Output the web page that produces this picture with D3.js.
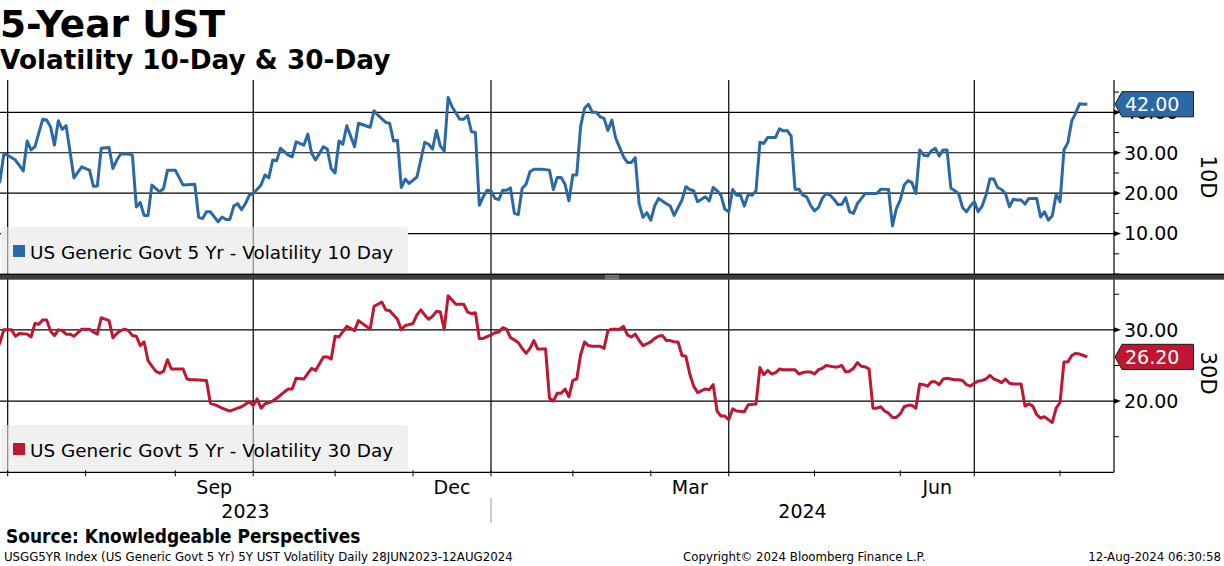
<!doctype html>
<html>
<head>
<meta charset="utf-8">
<title>5-Year UST</title>
<script src="https://d3js.org/d3.v7.min.js"></script>
<style>
body { margin: 0; background: #fff; }
</style>
</head>
<body>
<div id="chart"></div>
<script>

// bond market holidays (x axis runs on trading days, as on the terminal)
var startDate = "2023-06-28", endDate = "2024-08-12";
var holidays = ["2023-07-04","2023-09-04","2023-10-09","2023-11-10","2023-11-23","2023-12-25",
  "2024-01-01","2024-01-15","2024-02-19","2024-03-29","2024-05-27","2024-06-19","2024-07-04"];

var seriesNames = ["US Generic Govt 5 Yr - Volatility 10 Day", "US Generic Govt 5 Yr - Volatility 30 Day"];
var axisTitles = ["10D", "30D"];
var ticks10 = [10, 20, 30, 40];
var ticks30 = [20, 30];
var labelMonths = ["Sep", "Dec", "Mar", "Jun"];
var yearLabels = ["2023", "2024"];

// 10 day volatility
var dates10 = ["2023-06-28","2023-06-29","2023-06-30",
  "2023-07-03","2023-07-06","2023-07-10","2023-07-11","2023-07-12","2023-07-13","2023-07-17","2023-07-18","2023-07-19","2023-07-20","2023-07-21","2023-07-24","2023-07-25","2023-07-27","2023-07-31",
  "2023-08-01","2023-08-02","2023-08-03","2023-08-04","2023-08-07","2023-08-09","2023-08-10","2023-08-11","2023-08-14","2023-08-16","2023-08-17","2023-08-18","2023-08-21","2023-08-22","2023-08-23","2023-08-24","2023-08-28","2023-08-29","2023-08-30",
  "2023-09-01","2023-09-06","2023-09-11","2023-09-12","2023-09-13","2023-09-14","2023-09-15","2023-09-19","2023-09-20","2023-09-21","2023-09-22","2023-09-25","2023-09-26","2023-09-27","2023-09-28","2023-09-29",
  "2023-10-02","2023-10-04","2023-10-05","2023-10-06","2023-10-10","2023-10-11","2023-10-12","2023-10-16","2023-10-17","2023-10-18","2023-10-20","2023-10-23","2023-10-24","2023-10-25","2023-10-27","2023-10-30","2023-10-31",
  "2023-11-01","2023-11-02","2023-11-03","2023-11-06","2023-11-08","2023-11-09","2023-11-15","2023-11-16","2023-11-17","2023-11-21","2023-11-22","2023-11-24","2023-11-27","2023-11-28","2023-11-29","2023-11-30",
  "2023-12-04","2023-12-06","2023-12-07","2023-12-08","2023-12-11","2023-12-12","2023-12-13","2023-12-14","2023-12-15","2023-12-19","2023-12-20","2023-12-21","2023-12-22","2023-12-26","2023-12-27","2023-12-28","2023-12-29",
  "2024-01-02","2024-01-03","2024-01-04","2024-01-05","2024-01-08","2024-01-09","2024-01-10","2024-01-11","2024-01-12","2024-01-16","2024-01-17","2024-01-18","2024-01-22","2024-01-24","2024-01-25","2024-01-26","2024-01-29","2024-01-30","2024-01-31",
  "2024-02-01","2024-02-02","2024-02-05","2024-02-06","2024-02-07","2024-02-08","2024-02-09","2024-02-12","2024-02-13","2024-02-14","2024-02-15","2024-02-16","2024-02-21","2024-02-22","2024-02-23","2024-02-26","2024-02-27","2024-02-28","2024-02-29",
  "2024-03-01","2024-03-04","2024-03-05","2024-03-07","2024-03-08","2024-03-11","2024-03-13","2024-03-14","2024-03-15","2024-03-18","2024-03-19","2024-03-21","2024-03-22","2024-03-25","2024-03-26","2024-03-27","2024-03-28",
  "2024-04-01","2024-04-02","2024-04-03","2024-04-04","2024-04-05","2024-04-08","2024-04-09","2024-04-10","2024-04-11","2024-04-12","2024-04-15","2024-04-17","2024-04-18","2024-04-19","2024-04-22","2024-04-23","2024-04-24","2024-04-25","2024-04-26","2024-04-29","2024-04-30",
  "2024-05-01","2024-05-02","2024-05-03","2024-05-06","2024-05-07","2024-05-08","2024-05-09","2024-05-10","2024-05-13","2024-05-14","2024-05-15","2024-05-16","2024-05-20","2024-05-23","2024-05-24","2024-05-29","2024-05-30","2024-05-31",
  "2024-06-03","2024-06-04","2024-06-05","2024-06-06","2024-06-07","2024-06-10","2024-06-11","2024-06-12","2024-06-13","2024-06-14","2024-06-17","2024-06-18","2024-06-20","2024-06-21","2024-06-24","2024-06-25","2024-06-26","2024-06-27","2024-06-28",
  "2024-07-01","2024-07-02","2024-07-03","2024-07-05","2024-07-08","2024-07-09","2024-07-10","2024-07-11","2024-07-12","2024-07-15","2024-07-16","2024-07-17","2024-07-18","2024-07-19","2024-07-22","2024-07-23","2024-07-24","2024-07-25","2024-07-26","2024-07-29","2024-07-30","2024-07-31",
  "2024-08-01","2024-08-02","2024-08-05","2024-08-06","2024-08-07","2024-08-08","2024-08-09","2024-08-12"];
var vol10 = [22.0,22.8,29.7,
  29.4,28.2,25.5,32.9,30.7,31.5,38.3,38.1,36.4,31.9,37.9,35.8,36.7,23.8,26.5,
  26.1,25.7,21.7,21.8,31.1,31.3,26.1,28.2,29.7,29.7,29.4,16.6,17.7,14.5,14.5,22.0,20.3,21.2,25.7,
  25.7,22.0,22.2,14.0,13.7,15.4,15.4,12.9,14.1,13.5,13.5,16.8,17.4,15.9,17.4,19.5,
  19.9,22.0,24.5,23.8,28.2,28.0,31.1,29.4,29.0,32.7,31.9,34.6,29.8,28.2,31.5,30.9,26.1,
  25.0,32.9,32.1,36.7,31.5,37.3,36.3,40.4,39.3,37.5,37.3,32.9,33.1,21.4,23.5,22.4,
  24.0,32.6,32.1,30.9,35.5,31.7,30.4,43.7,41.4,38.3,38.3,39.2,35.2,35.0,17.0,19.1,20.7,
  20.6,18.7,18.4,20.7,20.7,21.3,15.0,14.7,21.2,22.2,25.3,25.9,25.9,25.7,20.9,23.9,23.9,22.2,18.1,
  24.5,24.5,36.6,41.0,42.0,40.0,40.0,38.9,38.5,35.5,38.1,33.6,29.0,27.6,27.6,28.8,17.4,14.0,15.2,
  13.3,16.9,18.7,17.4,16.8,14.5,18.3,21.6,20.9,20.6,17.9,19.1,18.1,21.4,20.6,19.5,16.0,
  15.4,20.9,19.5,19.5,16.8,19.7,19.5,20.6,32.6,32.3,33.8,33.8,35.9,35.4,35.5,34.2,21.0,21.0,19.5,19.1,17.0,
  15.6,16.4,18.7,19.9,19.5,18.5,17.2,17.2,18.9,15.4,15.0,17.4,19.9,19.9,21.0,20.9,11.9,16.2,
  18.3,22.0,23.1,22.6,19.9,30.7,29.4,29.2,30.5,31.1,29.2,30.7,30.7,21.2,20.6,19.8,16.4,15.4,16.8,
  17.9,15.4,16.8,19.5,23.5,23.5,21.4,20.9,19.9,16.6,18.5,18.3,18.3,17.3,18.7,18.7,18.7,14.1,15.4,13.3,14.4,19.7,
  17.9,30.7,32.5,37.9,39.8,42.1,42.0,42.0];

// 30 day volatility
var dates30 = ["2023-06-28","2023-06-29","2023-06-30",
  "2023-07-05","2023-07-06","2023-07-07","2023-07-11","2023-07-12","2023-07-13","2023-07-14","2023-07-17","2023-07-18","2023-07-19","2023-07-20","2023-07-21","2023-07-24","2023-07-25","2023-07-26","2023-07-27","2023-07-31",
  "2023-08-01","2023-08-02","2023-08-03","2023-08-04","2023-08-07","2023-08-08","2023-08-09","2023-08-10","2023-08-11","2023-08-14","2023-08-15","2023-08-16","2023-08-17","2023-08-18","2023-08-21","2023-08-22","2023-08-23","2023-08-24","2023-08-25","2023-08-28","2023-08-29","2023-08-30","2023-08-31",
  "2023-09-01","2023-09-06","2023-09-07","2023-09-08","2023-09-11","2023-09-14","2023-09-15","2023-09-18","2023-09-19","2023-09-20","2023-09-22","2023-09-25","2023-09-26","2023-09-27","2023-09-29",
  "2023-10-02","2023-10-03","2023-10-04","2023-10-05","2023-10-06","2023-10-10","2023-10-11","2023-10-13","2023-10-16","2023-10-17","2023-10-18","2023-10-20","2023-10-23","2023-10-24","2023-10-25","2023-10-27","2023-10-30","2023-10-31",
  "2023-11-01","2023-11-02","2023-11-06","2023-11-08","2023-11-09","2023-11-15","2023-11-16","2023-11-17","2023-11-20","2023-11-21","2023-11-22","2023-11-24","2023-11-27","2023-11-28","2023-11-29",
  "2023-12-01","2023-12-04","2023-12-05","2023-12-06","2023-12-07","2023-12-08","2023-12-11","2023-12-12","2023-12-13","2023-12-14","2023-12-15","2023-12-18","2023-12-20","2023-12-21","2023-12-22","2023-12-26","2023-12-27","2023-12-28",
  "2024-01-02","2024-01-03","2024-01-04","2024-01-05","2024-01-08","2024-01-09","2024-01-10","2024-01-11","2024-01-12","2024-01-16","2024-01-17","2024-01-18","2024-01-19","2024-01-23","2024-01-24","2024-01-25","2024-01-26","2024-01-29","2024-01-30","2024-01-31",
  "2024-02-01","2024-02-02","2024-02-05","2024-02-06","2024-02-07","2024-02-08","2024-02-12","2024-02-13","2024-02-14","2024-02-15","2024-02-20","2024-02-21","2024-02-22","2024-02-23","2024-02-26","2024-02-27","2024-02-28",
  "2024-03-01","2024-03-04","2024-03-05","2024-03-06","2024-03-07","2024-03-08","2024-03-11","2024-03-12","2024-03-13","2024-03-14","2024-03-15","2024-03-18","2024-03-19","2024-03-21","2024-03-22","2024-03-25","2024-03-26","2024-03-27","2024-03-28",
  "2024-04-01","2024-04-02","2024-04-03","2024-04-05","2024-04-08","2024-04-10","2024-04-11","2024-04-12","2024-04-15","2024-04-16","2024-04-17","2024-04-18","2024-04-19","2024-04-24","2024-04-25","2024-04-26","2024-04-29","2024-04-30",
  "2024-05-01","2024-05-02","2024-05-03","2024-05-06","2024-05-08","2024-05-09","2024-05-10","2024-05-13","2024-05-14","2024-05-15","2024-05-16","2024-05-17","2024-05-20","2024-05-21","2024-05-22","2024-05-23","2024-05-24","2024-05-28","2024-05-29","2024-05-30","2024-05-31",
  "2024-06-03","2024-06-04","2024-06-05","2024-06-06","2024-06-07","2024-06-10","2024-06-11","2024-06-12","2024-06-13","2024-06-14","2024-06-17","2024-06-18","2024-06-20","2024-06-21","2024-06-24","2024-06-25","2024-06-26","2024-06-27","2024-06-28",
  "2024-07-01","2024-07-02","2024-07-03","2024-07-05","2024-07-08","2024-07-09","2024-07-10","2024-07-11","2024-07-12","2024-07-15","2024-07-16","2024-07-18","2024-07-19","2024-07-22","2024-07-23","2024-07-24","2024-07-25","2024-07-26","2024-07-29","2024-07-30","2024-07-31",
  "2024-08-01","2024-08-02","2024-08-05","2024-08-06","2024-08-07","2024-08-08","2024-08-09","2024-08-12"];
var vol30 = [27.0,28.2,30.0,
  30.0,29.1,29.5,29.4,29.0,30.9,30.8,31.4,31.4,29.8,29.2,30.0,29.9,29.4,29.4,29.1,30.1,
  30.1,30.1,29.7,29.4,31.7,31.5,31.3,28.9,29.5,29.9,30.1,29.9,29.2,29.1,27.8,28.3,25.7,24.9,24.2,23.9,24.2,25.8,24.5,
  24.5,24.5,23.1,23.0,23.0,22.9,19.7,19.5,19.3,19.0,18.6,18.8,19.0,19.2,19.9,
  19.4,20.3,19.0,19.6,19.8,20.0,20.4,21.3,21.7,21.7,23.2,23.1,23.9,24.6,24.3,26.2,26.2,25.9,
  29.1,29.0,30.5,29.9,31.3,30.1,33.3,33.6,33.9,32.8,32.7,32.1,31.5,30.0,30.6,
  30.9,32.1,32.8,32.1,31.5,31.9,32.6,32.5,30.1,34.8,34.2,33.6,33.6,32.5,32.3,32.4,28.8,28.8,
  29.3,29.6,29.7,30.3,30.1,28.9,28.6,28.2,27.4,26.7,27.4,28.5,27.3,27.3,20.4,20.0,21.1,21.1,21.7,20.6,
  22.9,23.1,26.5,28.3,27.8,27.7,27.7,27.4,29.9,30.1,30.1,30.5,29.3,29.0,29.4,28.5,27.8,
  28.3,28.8,29.1,29.2,28.5,28.5,28.3,28.3,26.4,26.3,23.8,22.1,21.2,21.7,21.6,22.3,18.6,17.9,17.9,
  17.4,18.9,18.6,18.5,19.5,19.6,24.7,23.7,24.3,23.8,24.0,24.5,24.4,24.4,23.8,24.0,24.1,24.1,
  23.8,24.4,24.6,25.0,24.8,24.8,25.0,24.1,24.2,24.6,25.4,24.9,24.8,24.5,19.0,19.0,19.2,18.6,18.3,17.7,17.7,
  18.2,19.2,19.4,19.4,19.0,22.4,22.3,22.1,22.7,22.7,22.3,23.1,23.2,23.1,23.0,23.0,22.9,22.3,22.1,
  22.5,22.8,22.9,23.1,23.6,23.1,22.9,22.6,23.1,22.5,22.4,22.4,19.3,19.6,19.3,18.1,17.6,17.8,17.4,17.0,19.0,
  19.8,25.5,25.5,26.4,26.7,26.6,26.4,26.2];

var title = "5-Year UST";
var subtitle = "Volatility 10-Day & 30-Day";
var source = "Source: Knowledgeable Perspectives";
var footLeft = "USGG5YR Index (US Generic Govt 5 Yr) 5Y UST Volatility  Daily 28JUN2023-12AUG2024";
var footMid = "Copyright\u00a9 2024 Bloomberg Finance L.P.";
var footRight = "12-Aug-2024 06:30:58";

var blue = "#2b69a6", red = "#bf1631";

// ---- trading day calendar ----
var parseDate = d3.timeParse("%Y-%m-%d");
var fmt = d3.timeFormat("%Y-%m-%d");
var days = d3.timeDay.range(parseDate(startDate), d3.timeDay.offset(parseDate(endDate), 1))
  .filter(function(d){ return d.getDay() != 0 && d.getDay() != 6 && holidays.indexOf(fmt(d)) < 0; });
var dayIndex = {};
days.forEach(function(d, i){ dayIndex[fmt(d)] = i; });

var monthStarts = [];
days.forEach(function(d, i){
  if (i > 0 && d.getMonth() != days[i-1].getMonth()) monthStarts.push({date: d, i: i});
});

// ---- layout ----
var W = 1224, H = 566;
var plotL = 0, plotR = 1114;
var top1 = 80, bot1 = 274, top2 = 280, bot2 = 472.3;

var svg = d3.select("#chart").append("svg")
  .attr("width", W).attr("height", H)
  .style("font-family", "'DejaVu Sans', sans-serif");

var x = d3.scaleLinear().domain([1.03, days.length - 1 + 6.84]).range([plotL, plotR]);
var y10 = d3.scaleLinear().domain([0, 48]).range([bot1, top1]);
var y30 = d3.scaleLinear().domain([10, 37]).range([bot2, top2]);

// titles
svg.append("text").attr("x", 0).attr("y", 37).attr("font-size", 37.5).attr("font-weight", "bold").text(title);
svg.append("text").attr("x", 0).attr("y", 68.5).attr("font-size", 26.3).attr("font-weight", "bold").text(subtitle);

// horizontal gridlines
function hGrid(scale, ticks){
  svg.append("g").selectAll("line").data(ticks).enter().append("line")
    .attr("x1", plotL).attr("x2", plotR)
    .attr("y1", function(d){ return scale(d); }).attr("y2", function(d){ return scale(d); })
    .attr("stroke", "#000").attr("stroke-width", 1.2);
}
hGrid(y10, ticks10);
hGrid(y30, ticks30);

// vertical gridlines at quarter starts
var quarterStarts = monthStarts.filter(function(m){ return m.date.getMonth() % 3 == 0; });
svg.append("g").selectAll("line").data(quarterStarts).enter().append("line")
  .attr("x1", function(d){ return x(d.i); }).attr("x2", function(d){ return x(d.i); })
  .attr("y1", top1).attr("y2", bot2)
  .attr("stroke", "#000").attr("stroke-width", 1.2);

// legends
function legend(yTop, color, name){
  var g = svg.append("g");
  g.append("rect").attr("x", 1).attr("y", yTop).attr("width", 407).attr("height", 46)
    .attr("rx", 3).attr("fill", "#f0f0f0");
  g.selectAll("line").data(quarterStarts.filter(function(d){ return x(d.i) > 1 && x(d.i) < 408; }))
    .enter().append("line")
    .attr("x1", function(d){ return x(d.i); }).attr("x2", function(d){ return x(d.i); })
    .attr("y1", yTop).attr("y2", yTop + 46).attr("stroke", "#8a8a8a").attr("stroke-width", 1.2);
  g.append("rect").attr("x", 13).attr("y", yTop + 18).attr("width", 12).attr("height", 12).attr("fill", color);
  g.append("text").attr("x", 30).attr("y", yTop + 31.5).attr("font-size", 18.4).attr("fill", "#000").text(name);
}
legend(227, blue, seriesNames[0]);
legend(425, red, seriesNames[1]);

// clip paths and lines
var defs = svg.append("defs");
defs.append("clipPath").attr("id", "clip1").append("rect")
  .attr("x", plotL).attr("y", top1).attr("width", plotR - plotL).attr("height", bot1 - top1);
defs.append("clipPath").attr("id", "clip2").append("rect")
  .attr("x", plotL).attr("y", top2).attr("width", plotR - plotL).attr("height", bot2 - top2);

function drawLine(dates, vals, scale, color, clip){
  var pts = dates.map(function(d, i){ return [dayIndex[d], vals[i]]; });
  var line = d3.line()
    .x(function(p){ return x(p[0]); })
    .y(function(p){ return scale(p[1]); });
  svg.append("path").datum(pts)
    .attr("clip-path", "url(#" + clip + ")")
    .attr("d", line).attr("fill", "none")
    .attr("stroke", color).attr("stroke-width", 3)
    .attr("stroke-linejoin", "round");
}
drawLine(dates10, vol10, y10, blue, "clip1");
drawLine(dates30, vol30, y30, red, "clip2");

// right axis
svg.append("line").attr("x1", plotR).attr("x2", plotR).attr("y1", top1).attr("y2", bot2)
  .attr("stroke", "#000").attr("stroke-width", 1.2);
// bottom axis
svg.append("line").attr("x1", plotL).attr("x2", plotR).attr("y1", bot2).attr("y2", bot2)
  .attr("stroke", "#000").attr("stroke-width", 1.2);

function rightAxis(scale, ticks, minor, label, midY){
  var g = svg.append("g");
  g.selectAll(".mn").data(minor).enter().append("line")
    .attr("x1", plotR).attr("x2", plotR + 5)
    .attr("y1", function(d){ return scale(d); }).attr("y2", function(d){ return scale(d); })
    .attr("stroke", "#000");
  g.selectAll("path").data(ticks).enter().append("path")
    .attr("d", function(d){ var yy = scale(d); return "M" + plotR + "," + (yy - 2.6) + "L" + (plotR + 7) + "," + yy + "L" + plotR + "," + (yy + 2.6) + "Z"; })
    .attr("fill", "#000");
  g.selectAll("text").data(ticks).enter().append("text")
    .attr("x", plotR + 10).attr("y", function(d){ return scale(d); })
    .attr("dy", "0.36em").attr("font-size", 19)
    .text(function(d){ return d.toFixed(2); });
  g.append("text").attr("transform", "translate(1201," + midY + ") rotate(90)")
    .attr("text-anchor", "middle").attr("font-size", 21).text(label);
}
rightAxis(y10, ticks10, [0, 5, 15, 25, 35, 45], axisTitles[0], (top1 + bot1) / 2);
rightAxis(y30, ticks30, [15, 25, 35], axisTitles[1], (top2 + bot2) / 2 - 3);

// divider between the panels
svg.append("rect").attr("x", 0).attr("y", 273.7).attr("width", W).attr("height", 6).attr("fill", "#3c3c3c");
svg.append("line").attr("x1", 0).attr("x2", W).attr("y1", 274.3).attr("y2", 274.3).attr("stroke", "#111").attr("stroke-width", 1.2);
[275.9, 278.1].forEach(function(yy){
  svg.append("line").attr("x1", 605).attr("x2", 619).attr("y1", yy).attr("y2", yy)
    .attr("stroke", "#b0b0b0").attr("stroke-width", 1);
});

// last value tags
function tag(scale, v, color){
  var yy = scale(v);
  svg.append("path")
    .attr("d", "M" + (plotR + 1) + "," + yy + "L" + (plotR + 8) + "," + (yy - 12.6) + "L1193.5," + (yy - 12.6) +
      "L1193.5," + (yy + 12.6) + "L" + (plotR + 8) + "," + (yy + 12.6) + "Z")
    .attr("fill", color).attr("stroke", "#1a1a1a").attr("stroke-width", 1);
  svg.append("text").attr("x", plotR + 11).attr("y", yy).attr("dy", "0.36em")
    .attr("font-size", 19).attr("fill", "#fff").text(v.toFixed(2));
}
tag(y10, vol10[vol10.length - 1], blue);
tag(y30, vol30[vol30.length - 1], red);

// x axis: month ticks, quarter-month labels, years
svg.append("g").selectAll("line").data(monthStarts).enter().append("line")
  .attr("x1", function(d){ return x(d.i); }).attr("x2", function(d){ return x(d.i); })
  .attr("y1", bot2 - 2).attr("y2", bot2 + 4).attr("stroke", "#000");

var monthName = d3.timeFormat("%b");
var labelled = [];
monthStarts.forEach(function(m, k){
  if (labelMonths.indexOf(monthName(m.date)) >= 0 && k + 1 < monthStarts.length)
    labelled.push({name: monthName(m.date), pos: (m.i + monthStarts[k + 1].i) / 2});
});
svg.append("g").selectAll("text").data(labelled).enter().append("text")
  .attr("x", function(d){ return x(d.pos); }).attr("y", 494)
  .attr("text-anchor", "middle").attr("font-size", 19).text(function(d){ return d.name; });

var yearStart = monthStarts.filter(function(m){ return m.date.getMonth() == 0; })[0];
var yearSpans = [[x.domain()[0], yearStart.i], [yearStart.i, x.domain()[1]]];
svg.append("g").selectAll("text").data(yearLabels).enter().append("text")
  .attr("x", function(d, i){ return (x(yearSpans[i][0]) + x(yearSpans[i][1])) / 2; }).attr("y", 518)
  .attr("text-anchor", "middle").attr("font-size", 19).text(function(d){ return d; });
svg.append("line").attr("x1", x(yearStart.i)).attr("x2", x(yearStart.i))
  .attr("y1", 498).attr("y2", 523).attr("stroke", "#999").attr("stroke-width", 1);

// source and footer
svg.append("text").attr("x", 6).attr("y", 543)
  .style("font-family", "'DejaVu Sans Condensed', 'DejaVu Sans', sans-serif")
  .attr("font-weight", "bold").attr("font-size", 18.9).text(source);
var foot = svg.append("g").style("font-family", "'DejaVu Sans Condensed', 'DejaVu Sans', sans-serif")
  .style("white-space", "pre").attr("font-size", 13.1);
foot.append("text").attr("x", 4).attr("y", 561).text(footLeft);
foot.append("text").attr("x", 683).attr("y", 561).text(footMid);
foot.append("text").attr("x", 1221).attr("y", 561).attr("text-anchor", "end").text(footRight);

</script>
</body>
</html>
